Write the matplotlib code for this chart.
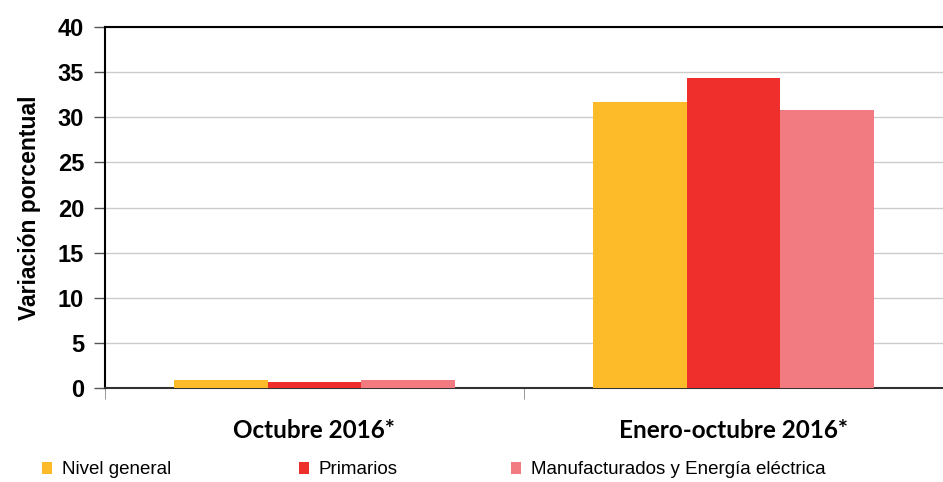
import numpy as np
import matplotlib
matplotlib.use("Agg")
import matplotlib.pyplot as plt

categories = ["Octubre 2016*", "Enero-octubre 2016*"]
series = ["Nivel general", "Primarios", "Manufacturados y Energía eléctrica"]
nivel_general = [0.9, 31.7]
primarios = [0.7, 34.4]
manufacturados = [0.9, 30.8]
colors = ["#FDBB2A", "#EE2F2B", "#F27B81"]

plt.rcParams["font.family"] = ["Liberation Sans", "DejaVu Sans"]

fig = plt.figure(figsize=(9.43, 4.82), dpi=100)
ax = fig.add_axes([0.1113, 0.195, 0.8887, 0.749])

x = np.arange(len(categories))
w = 0.224
handles = []
for i, (vals, name) in enumerate(zip([nivel_general, primarios, manufacturados], series)):
    b = ax.bar(x + (i - 1) * w, vals, width=w, color=colors[i], label=name, zorder=3)
    handles.append(b)

ax.set_xlim(-0.5, 1.5)
ax.set_ylim(0, 40)
ax.set_yticks(range(0, 41, 5))
ax.yaxis.grid(True, color="#CCCCCC", linewidth=1, zorder=0)
ax.set_axisbelow(True)

ax.set_xticks(x)
ax.set_xticklabels(categories, fontsize=17.5, fontweight="bold", family=["Lato", "DejaVu Sans"])
ax.tick_params(axis="x", length=0, pad=22)
ax.set_xticks([-0.5, 0.5, 1.5], minor=True)
ax.tick_params(axis="x", which="minor", length=8, color="#888888")
ax.tick_params(axis="y", length=8, labelsize=17, width=1, pad=7, color="#555555")
for lab in ax.get_yticklabels():
    lab.set_fontweight("bold")

ax.spines["right"].set_visible(False)
ax.spines["left"].set_linewidth(1.5)
ax.spines["bottom"].set_linewidth(1.5)
ax.spines["bottom"].set_color("#333333")
ax.spines["top"].set_linewidth(1.5)

ax.set_ylabel("Variación porcentual", fontsize=16.5, fontweight="bold", labelpad=12)

# legend entries placed one by one along the bottom
legend_x = [42, 299, 511]
for h, name, lx in zip(handles, series, legend_x):
    fig.legend(handles=[h], labels=[name], loc="center left",
               bbox_to_anchor=(lx / 943, 1 - 470 / 482), frameon=False,
               fontsize=13.5, handlelength=0.55, handleheight=0.55,
               handletextpad=0.5, borderpad=0, borderaxespad=0)

fig.savefig("out.png", dpi=100)
